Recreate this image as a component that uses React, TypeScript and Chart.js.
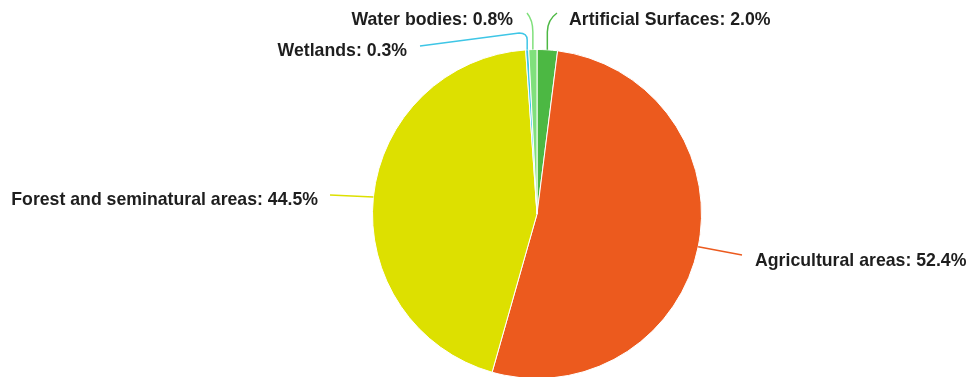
import React, { useEffect, useRef } from "react";
import { Chart, registerables } from "chart.js";

Chart.register(...registerables);

const categories = [
  "Artificial Surfaces",
  "Agricultural areas",
  "Forest and seminatural areas",
  "Wetlands",
  "Water bodies",
];
const shares = [2.0, 52.4, 44.5, 0.3, 0.8];
const sliceColors = ["#4cb843", "#ec5a1e", "#dde000", "#3ec6e6", "#80e07c"];

// label layout (annotation placement only)
const labelLayout = [
  { tx: 569, ty: 20, align: "left", path: "upRight", ex: 557, ey: 13 },
  { tx: 755, ty: 261, align: "left", path: "straight", ex: 742, ey: 255 },
  { tx: 318, ty: 200, align: "right", path: "straight", ex: 330, ey: 195 },
  { tx: 407, ty: 51, align: "right", path: "wet", ex: 420, ey: 46 },
  { tx: 513, ty: 20, align: "right", path: "upLeft", ex: 527, ey: 13 },
];

const labelPlugin = {
  id: "pieLabels",
  afterDatasetsDraw(chart: any) {
    const ctx = chart.ctx;
    const meta = chart.getDatasetMeta(0);
    ctx.save();
    meta.data.forEach((arc: any, i: number) => {
      const { x, y, startAngle, endAngle, outerRadius } = arc.getProps(
        ["x", "y", "startAngle", "endAngle", "outerRadius"],
        true
      );
      const mid = (startAngle + endAngle) / 2;
      const ax = x + Math.cos(mid) * outerRadius;
      const ay = y + Math.sin(mid) * outerRadius;
      const L = labelLayout[i];
      ctx.strokeStyle = sliceColors[i];
      ctx.lineWidth = 1.5;
      ctx.beginPath();
      ctx.moveTo(ax, ay);
      if (L.path === "straight") {
        ctx.lineTo(L.ex, L.ey);
      } else if (L.path === "upRight" || L.path === "upLeft") {
        ctx.lineTo(ax, 32);
        ctx.quadraticCurveTo(ax, 20, L.ex, L.ey);
      } else if (L.path === "wet") {
        ctx.lineTo(ax, 40);
        ctx.quadraticCurveTo(ax, 33, ax - 8, 33);
        ctx.lineTo(L.ex, L.ey);
      }
      ctx.stroke();
      ctx.fillStyle = "#1e1e1e";
      ctx.font = "bold 17.7px 'Liberation Sans', Arial, sans-serif";
      ctx.textAlign = L.align;
      ctx.textBaseline = "middle";
      ctx.fillText(`${categories[i]}: ${shares[i].toFixed(1)}%`, L.tx, L.ty);
    });
    ctx.restore();
  },
};

export default function App() {
  const ref = useRef<HTMLCanvasElement>(null);
  useEffect(() => {
    const chart = new Chart(ref.current!, {
      type: "pie",
      data: {
        labels: categories,
        datasets: [
          {
            data: shares,
            backgroundColor: sliceColors,
            borderColor: "#ffffff",
            borderWidth: 1,
          },
        ],
      },
      options: {
        animation: false,
        responsive: false,
        maintainAspectRatio: false,
        layout: { padding: { top: 49, bottom: 2, left: 104, right: 0 } },
        plugins: {
          legend: { display: false },
          tooltip: { enabled: false },
        },
      },
      plugins: [labelPlugin],
    });
    return () => chart.destroy();
  }, []);
  return (
    <div style={{ position: "absolute", left: 0, top: 0, width: 970, height: 377, overflow: "hidden", background: "#fff" }}>
      <canvas ref={ref} width={970} height={381} style={{ display: "block" }} />
    </div>
  );
}
